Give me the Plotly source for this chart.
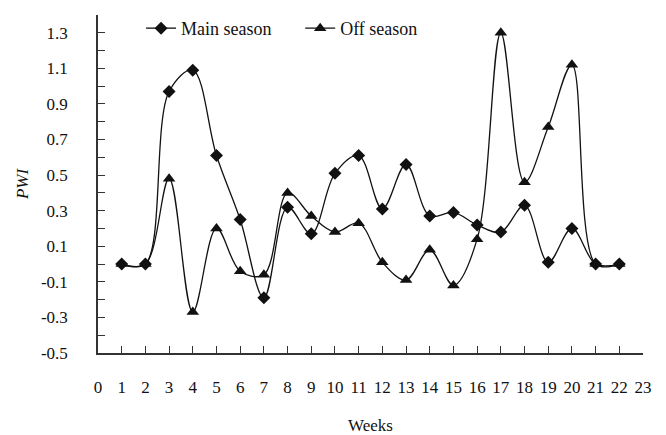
import plotly.graph_objects as go

weeks = list(range(1, 23))
main_season = [0.0, 0.0, 0.97, 1.09, 0.61, 0.25, -0.19, 0.32, 0.17, 0.51, 0.61,
               0.31, 0.56, 0.27, 0.29, 0.22, 0.18, 0.33, 0.01, 0.20, 0.0, 0.0]
off_season = [0.0, 0.0, 0.48, -0.27, 0.20, -0.04, -0.06, 0.40, 0.27, 0.18, 0.23,
              0.01, -0.09, 0.08, -0.12, 0.14, 1.30, 0.46, 0.77, 1.12, 0.0, 0.0]

x_ticks = list(range(0, 24))
y_ticks = [round(-0.5 + 0.1 * i, 1) for i in range(20)]
y_labels = [f"{v:.1f}" if i % 2 == 0 else "" for i, v in enumerate(y_ticks)]

FONT = "Liberation Serif"
INK = "#111"
tickfont = dict(family=FONT, size=17, color=INK)

fig = go.Figure()
fig.add_trace(go.Scatter(
    x=weeks, y=main_season, name="Main season", mode="lines+markers",
    line=dict(color=INK, width=1.3, shape="spline", smoothing=1.0),
    marker=dict(symbol="diamond", size=10, color=INK),
    legend="legend",
))
fig.add_trace(go.Scatter(
    x=weeks, y=off_season, name="Off season", mode="lines+markers",
    line=dict(color=INK, width=1.3, shape="spline", smoothing=1.0),
    marker=dict(symbol="triangle-up", size=11, color=INK),
    legend="legend2",
))

leg_common = dict(orientation="h", y=1.015, xanchor="left", yanchor="top",
                  bgcolor="rgba(0,0,0,0)", font=dict(size=18, family=FONT, color=INK))

fig.update_layout(
    width=666, height=435,
    margin=dict(l=90, r=31, t=7, b=90, autoexpand=False),
    paper_bgcolor="white", plot_bgcolor="white",
    font=dict(family=FONT, size=17, color=INK),
    showlegend=True,
    legend=dict(x=0.079, **leg_common),
    legend2=dict(x=0.371, **leg_common),
    xaxis=dict(range=[0, 23], tickvals=x_ticks, ticktext=[str(v) for v in x_ticks],
               tickfont=tickfont, automargin=False,
               ticks="inside", ticklen=7, tickwidth=1.3, tickcolor="#333",
               showline=True, linecolor="#333", linewidth=1.5,
               showgrid=False, zeroline=False, ticklabelstandoff=18,
               title=dict(text="Weeks", standoff=23, font=dict(size=17, family=FONT))),
    yaxis=dict(range=[-0.5, 1.4], tickvals=y_ticks, ticktext=y_labels,
               tickfont=tickfont, automargin=False,
               ticks="inside", ticklen=7, tickwidth=1.3, tickcolor="#333",
               showline=True, linecolor="#333", linewidth=1.5,
               showgrid=False, zeroline=False, ticklabelstandoff=25,
               title=dict(text="<i>PWI</i>", standoff=8, font=dict(size=17, family=FONT))),
)

fig.write_html("out.html")
